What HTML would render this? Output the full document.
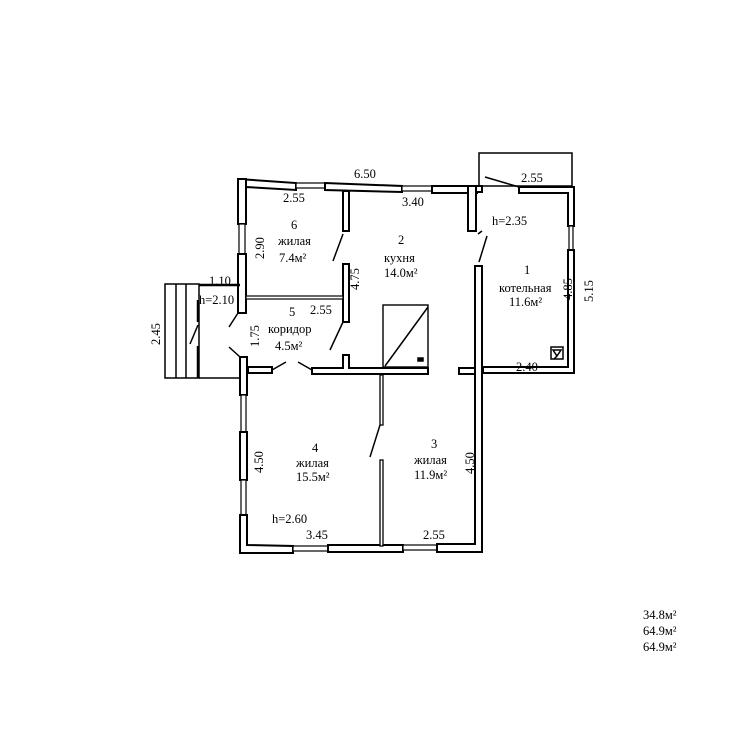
<!DOCTYPE html>
<html><head><meta charset="utf-8"><style>
html,body{margin:0;padding:0;background:#fff;}
svg{display:block;}
text{font-family:"Liberation Serif",serif;font-size:12.5px;fill:#000;}
</style></head><body>
<svg width="730" height="750" viewBox="0 0 730 750" xmlns="http://www.w3.org/2000/svg">
<g fill="#fff" stroke="#000" stroke-width="2">
<polygon points="238,179 296,183 296,190 246,187 246,179"/>
<rect x="296" y="183" width="29" height="5" stroke-width="1.2"/>
<polygon points="325,183 402,186 402,192 325,190"/>
<rect x="402" y="186" width="30" height="5" stroke-width="1.2"/>
<polygon points="432,186 477,186 477,193 432,193"/>
<rect x="468" y="186" width="8" height="45"/>
<rect x="476" y="186" width="6" height="6"/>
<rect x="238" y="179" width="8" height="45"/>
<rect x="239" y="224" width="6" height="30" stroke-width="1.2"/>
<rect x="238" y="254" width="8" height="59"/>
<rect x="240" y="357" width="7" height="38"/>
<rect x="241" y="395" width="5" height="37" stroke-width="1.2"/>
<rect x="240" y="432" width="7" height="48"/>
<rect x="241" y="480" width="5" height="35" stroke-width="1.2"/>
<polygon points="240,515 247,515 247,545 293,546 293,553 240,553"/>
<rect x="293" y="546" width="35" height="5" stroke-width="1.2"/>
<rect x="328" y="545" width="75" height="7"/>
<rect x="403" y="545" width="34" height="5" stroke-width="1.2"/>
<polygon points="437,544 475,544 475,266 482,266 482,552 437,552"/>
<polygon points="519,187 574,187 574,226 568,226 568,193 519,193"/>
<rect x="569" y="226" width="4" height="24" stroke-width="1.2"/>
<polygon points="568,250 574,250 574,373 483,373 483,367 568,367"/>
<rect x="459" y="368" width="16" height="6"/>
<rect x="343" y="191" width="6" height="40"/>
<rect x="343" y="264" width="6" height="58"/>
<rect x="246" y="296" width="97" height="3" stroke-width="1.2"/>
<rect x="248" y="367" width="24" height="6"/>
<polygon points="312,368 343,368 343,355 349,355 349,368 428,368 428,374 312,374"/>
<rect x="380" y="375" width="3" height="50" stroke-width="1.3"/>
<rect x="380" y="460" width="3" height="86" stroke-width="1.3"/>
<rect x="383" y="305" width="45" height="62" stroke-width="1.4"/>
</g>
<g stroke="#000" fill="none" stroke-width="1.5">
<line x1="428" y1="307" x2="385" y2="366"/>
<rect x="418" y="358" width="5" height="3" fill="#000"/>
<rect x="479" y="153" width="93" height="33"/>
<line x1="485" y1="177" x2="519" y2="187"/>
<line x1="478" y1="234" x2="482" y2="231"/>
<line x1="487" y1="236" x2="479" y2="262"/>
<line x1="343" y1="234" x2="333" y2="261"/>
<line x1="343" y1="322" x2="330" y2="350"/>
<line x1="238" y1="313" x2="229" y2="327"/>
<line x1="229" y1="347" x2="240" y2="357"/>
<line x1="272" y1="370" x2="286" y2="362"/>
<line x1="298" y1="362" x2="312" y2="370"/>
<line x1="380" y1="425" x2="370" y2="457"/>
<rect x="165" y="284" width="34" height="94"/>
<line x1="176" y1="284" x2="176" y2="378"/>
<line x1="186" y1="284" x2="186" y2="378"/>
<line x1="199" y1="378" x2="240" y2="378"/>
<line x1="199" y1="285" x2="240" y2="285" stroke-width="2.5"/>
<line x1="198" y1="300" x2="198" y2="322" stroke-width="2.5"/>
<line x1="198" y1="325" x2="190" y2="344"/>
<line x1="198" y1="346" x2="198" y2="378" stroke-width="2.5"/>
<rect x="551" y="347" width="12" height="12"/>
<path d="M553,350 L561,350 L557,356 Z M557,356 L554,359"/>
</g>
<text x="354" y="178">6.50</text>
<text x="283" y="202">2.55</text>
<text x="402" y="206">3.40</text>
<text x="521" y="182">2.55</text>
<text x="492" y="225">h=2.35</text>
<text x="291" y="229">6</text>
<text x="278" y="245">жилая</text>
<text x="279" y="262">7.4м²</text>
<text x="398" y="244">2</text>
<text x="384" y="262">кухня</text>
<text x="384" y="277">14.0м²</text>
<text x="524" y="274">1</text>
<text x="499" y="292">котельная</text>
<text x="509" y="306">11.6м²</text>
<text x="209" y="285">1.10</text>
<text x="199" y="304">h=2.10</text>
<text x="310" y="314">2.55</text>
<text x="289" y="316">5</text>
<text x="268" y="333">коридор</text>
<text x="275" y="350">4.5м²</text>
<text x="516" y="371">2.40</text>
<text x="312" y="452">4</text>
<text x="296" y="467">жилая</text>
<text x="296" y="481">15.5м²</text>
<text x="431" y="448">3</text>
<text x="414" y="464">жилая</text>
<text x="414" y="479">11.9м²</text>
<text x="272" y="523">h=2.60</text>
<text x="306" y="539">3.45</text>
<text x="423" y="539">2.55</text>
<text transform="translate(264,259) rotate(-90)">2.90</text>
<text transform="translate(359,290) rotate(-90)">4.75</text>
<text transform="translate(572,300) rotate(-90)">4.85</text>
<text transform="translate(593,302) rotate(-90)">5.15</text>
<text transform="translate(160,345) rotate(-90)">2.45</text>
<text transform="translate(259,347) rotate(-90)">1.75</text>
<text transform="translate(263,473) rotate(-90)">4.50</text>
<text transform="translate(474,474) rotate(-90)">4.50</text>
<text x="643" y="619">34.8м²</text>
<text x="643" y="635">64.9м²</text>
<text x="643" y="651">64.9м²</text>
</svg>
</body></html>
